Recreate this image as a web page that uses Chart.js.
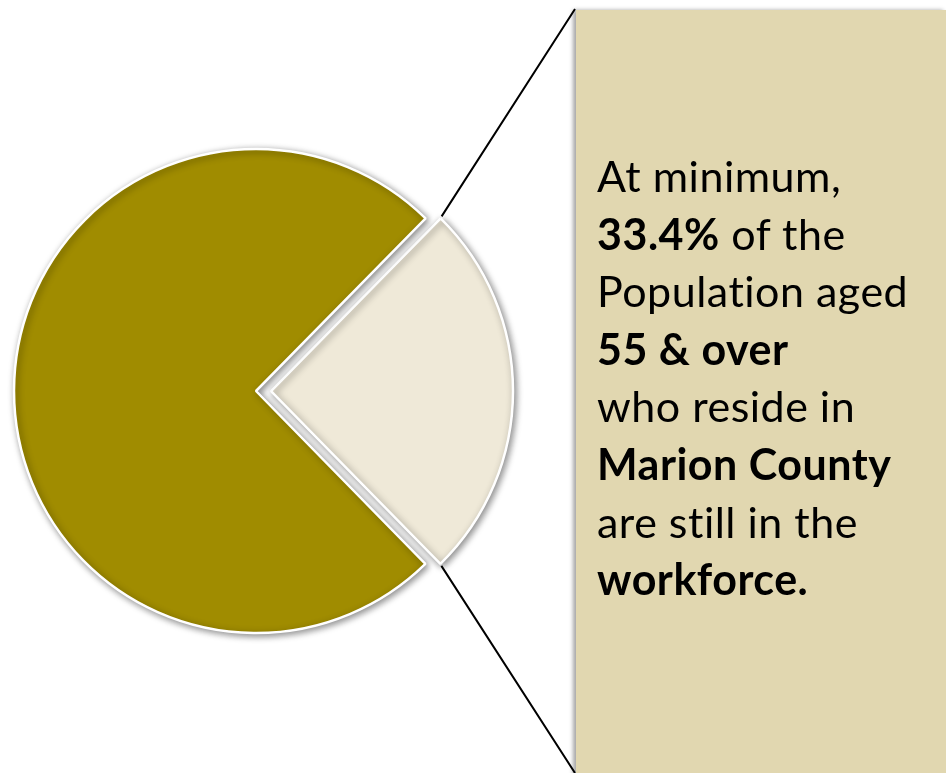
<!DOCTYPE html>
<html>
<head>
<meta charset="utf-8">
<script src="https://cdn.jsdelivr.net/npm/chart.js@4/dist/chart.umd.min.js"></script>
<style>
  html, body { margin: 0; padding: 0; background: #ffffff; }
  body { width: 946px; height: 773px; position: relative; overflow: hidden; }
  #wrap { position: absolute; left: 0; top: 0; width: 946px; height: 773px; }
  #panel {
    position: absolute; left: 576px; top: 10px; width: 370px; height: 780px;
    background: #e1d7b0; box-shadow: -3px 0 4px rgba(0,0,0,0.35);
    box-sizing: border-box; padding: 137px 0 0 21px;
    font-family: Lato, "Open Sans", sans-serif; font-size: 43px; line-height: 57.6px;
    letter-spacing: 0.5px; font-variant-ligatures: none; font-feature-settings: "liga" 0;
    color: #000000; white-space: nowrap;
  }
  #panel b { font-weight: 700; }
</style>
</head>
<body>
<div id="wrap"><canvas id="c" width="946" height="773"></canvas></div>
<div id="panel">
  At minimum,<br>
  <b>33.4%</b> of the<br>
  Population aged<br>
  <b>55 &amp; over</b><br>
  who reside in<br>
  <b>Marion County</b><br>
  are still in the<br>
  <b>workforce.</b>
</div>
<script>
const categories = ["In workforce", "Not in workforce"];
const values = [25.3, 74.7];
const colors = ["#efe9d8", "#a08c00"];
const sliceOffsets = [60, 0];

const shadowPlugin = {
  id: 'shadow',
  beforeDatasetsDraw(chart) {
    const ctx = chart.ctx;
    ctx.save();
    ctx.shadowColor = 'rgba(0,0,0,0.45)';
    ctx.shadowBlur = 7;
    ctx.shadowOffsetX = 2;
    ctx.shadowOffsetY = 2;
  },
  afterDatasetsDraw(chart) {
    chart.ctx.restore();
  }
};

const calloutPlugin = {
  id: 'callout',
  afterDraw(chart) {
    const arc = chart.getDatasetMeta(0).data[0];
    const p = arc.getProps(['x', 'y', 'startAngle', 'endAngle', 'outerRadius'], true);
    const t = (arc.options.offset || 0) / 4;
    const h = (p.startAngle + p.endAngle) / 2;
    const cx = p.x + Math.cos(h) * t, cy = p.y + Math.sin(h) * t;
    const r = p.outerRadius;
    const top = [cx + Math.cos(p.startAngle) * r, cy + Math.sin(p.startAngle) * r];
    const bot = [cx + Math.cos(p.endAngle) * r, cy + Math.sin(p.endAngle) * r];
    const ctx = chart.ctx;
    ctx.save();
    ctx.strokeStyle = '#000000';
    ctx.lineWidth = 2;
    ctx.beginPath();
    ctx.moveTo(top[0] + 1, top[1] - 2);
    ctx.lineTo(575, 9);
    ctx.moveTo(bot[0] + 1, bot[1] + 2);
    ctx.lineTo(575, 773);
    ctx.stroke();
    ctx.restore();
  }
};

new Chart(document.getElementById('c'), {
  type: 'pie',
  data: {
    labels: categories,
    datasets: [{
      data: values,
      backgroundColor: colors,
      borderColor: '#ffffff',
      borderWidth: 2.5,
      offset: sliceOffsets,
      hoverOffset: 0
    }]
  },
  options: {
    responsive: false,
    animation: false,
    events: [],
    rotation: 44.5,
    radius: 242,
    layout: { padding: { left: 0, right: 434, top: 9, bottom: 0 } },
    plugins: { legend: { display: false }, tooltip: { enabled: false } }
  },
  plugins: [shadowPlugin, calloutPlugin]
});
</script>
</body>
</html>
